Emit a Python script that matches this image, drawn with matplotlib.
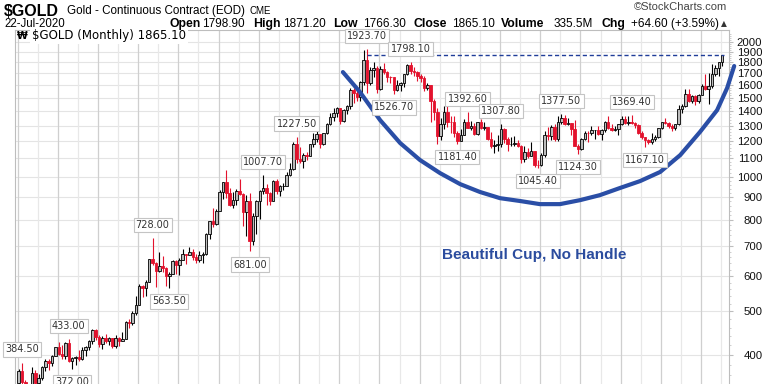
import matplotlib
matplotlib.use("Agg")
import matplotlib.pyplot as plt
from matplotlib.ticker import FixedLocator, NullFormatter, FuncFormatter
import numpy as np

plt.rcParams['font.family'] = ['Liberation Sans', 'DejaVu Sans']

# monthly $GOLD candles, Jan 2003 .. Jul 2020 (month index 0 = Jan 2003)
opens = [
    347, 368, 348, 335, 339, 364, 346, 355, 375, 388, 384, 398,          # 2003
    416, 402, 398, 426, 388, 394, 396, 392, 410, 417, 429, 454,          # 2004
    438, 423, 436, 430, 436, 418, 437, 430, 434, 473, 470, 496,          # 2005
    517, 569, 565, 583, 654, 643, 616, 633, 626, 599, 606, 648,          # 2006
    635, 651, 671, 668, 680, 660, 651, 669, 673, 745, 794, 784,          # 2007
    838, 924, 972, 917, 865, 888, 927, 914, 834, 884, 718, 818,          # 2008
    884, 928, 942, 917, 884, 978, 927, 953, 955, 1008, 1040, 1182,       # 2009
    1097, 1081, 1118, 1113, 1180, 1212, 1245, 1181, 1248, 1308, 1359, 1386,  # 2010
    1421, 1333, 1409, 1439, 1563, 1536, 1502, 1628, 1825, 1620, 1725, 1746,  # 2011
    1566, 1738, 1711, 1669, 1664, 1561, 1604, 1614, 1691, 1776, 1719, 1712,  # 2012
    1676, 1663, 1578, 1597, 1472, 1393, 1234, 1312, 1396, 1327, 1323, 1253,  # 2013
    1202, 1240, 1326, 1284, 1296, 1246, 1322, 1282, 1287, 1210, 1171, 1175,  # 2014
    1184, 1279, 1213, 1183, 1184, 1190, 1172, 1095, 1133, 1114, 1142, 1064,  # 2015
    1060, 1116, 1238, 1234, 1290, 1215, 1321, 1350, 1309, 1317, 1277, 1173,  # 2016
    1152, 1211, 1253, 1251, 1268, 1269, 1242, 1270, 1322, 1283, 1271, 1277,  # 2017
    1309, 1345, 1318, 1327, 1315, 1303, 1254, 1224, 1206, 1195, 1215, 1226,  # 2018
    1283, 1325, 1316, 1298, 1286, 1310, 1413, 1438, 1529, 1472, 1515, 1472,  # 2019
    1523, 1589, 1566, 1596, 1694, 1751, 1798.9,                              # 2020
]
highs = [
    372, 384.5, 352, 341, 376, 371, 363, 377, 392, 391, 399, 417,
    427, 420, 428, 433, 396, 398, 410, 417, 419, 431, 456, 456,
    442, 440, 446, 438, 437, 443, 438, 450, 475, 480, 500, 540,
    575, 574, 589, 655, 728, 645, 680, 665, 628, 612, 650, 651,
    659, 691, 673, 697, 689, 673, 683, 678, 747, 797, 849, 845,
    935, 975, 1033.9, 941, 925, 939, 989, 918, 910, 919, 831, 888,
    931, 1007.7, 964, 922, 982, 990, 960, 970, 1025, 1070, 1195, 1227.5,
    1163, 1128, 1137, 1184, 1249, 1265, 1245, 1249, 1315, 1388, 1424, 1432,
    1424, 1412, 1448, 1576, 1578, 1561, 1632, 1912, 1923.7, 1757, 1804, 1764,
    1763, 1792, 1719, 1679, 1666, 1639, 1630, 1692, 1788, 1798.1, 1754, 1723,
    1697, 1681, 1617, 1605, 1488, 1424, 1348, 1434, 1435, 1362, 1362, 1267,
    1280, 1345, 1392.6, 1331, 1315, 1326, 1346, 1325, 1289, 1256, 1205, 1239,
    1307.8, 1286, 1224, 1225, 1232, 1205, 1175, 1171, 1157, 1192, 1143, 1088,
    1126, 1263, 1287, 1303, 1307, 1362, 1377.5, 1372, 1353, 1318, 1338, 1184,
    1221, 1265, 1264, 1297, 1270, 1298, 1276, 1330, 1362, 1310, 1298, 1311,
    1366, 1366, 1365, 1369.4, 1326, 1309, 1266, 1225, 1216, 1249, 1238, 1286,
    1326, 1349, 1325, 1311, 1311, 1442, 1453, 1566, 1566, 1519, 1517, 1526,
    1611, 1691, 1704, 1788, 1775, 1804, 1871.2,
]
lows = [
    343, 345, 322, 319, 339, 340, 342, 351, 369, 370, 378, 398,
    399, 392, 391, 386, 372, 380, 387, 389, 398, 411, 423, 432,
    416, 412, 425, 420, 414, 414, 418, 430, 433, 460, 466, 490,
    517, 538, 542, 582, 636, 567, 611, 611, 570, 563.5, 606, 605,
    603, 650, 638, 667, 652, 640, 645, 643, 670, 727, 771, 780,
    838, 890, 894, 858, 850, 862, 909, 775, 736, 681, 703, 743,
    803, 916, 866, 865, 884, 913, 904, 931, 952, 1003, 1035, 1075,
    1071, 1045, 1088, 1113, 1165, 1195, 1157, 1175, 1245, 1305, 1330, 1359,
    1309, 1323, 1381, 1418, 1462, 1478, 1478, 1600, 1535, 1600, 1671, 1535,
    1562, 1693, 1627, 1614, 1526.7, 1550, 1555, 1583, 1688, 1691, 1674, 1636,
    1627, 1555, 1563, 1321, 1338, 1185, 1208, 1275, 1291, 1251, 1227, 1181.4,
    1199, 1238, 1282, 1268, 1241, 1240, 1280, 1271, 1206, 1161, 1131, 1142,
    1167, 1191, 1142, 1168, 1170, 1162, 1073, 1080, 1098, 1113, 1052, 1045.4,
    1058, 1107, 1208, 1207, 1200, 1200, 1310, 1303, 1305, 1241, 1171, 1124.3,
    1146, 1208, 1194, 1241, 1214, 1237, 1204, 1260, 1277, 1262, 1264, 1237,
    1303, 1308, 1306, 1310, 1282, 1245, 1211, 1167.1, 1180, 1182, 1198, 1222,
    1277, 1311, 1281, 1266, 1269, 1306, 1385, 1430, 1465, 1458, 1445, 1459,
    1517, 1563, 1451, 1573, 1681, 1678, 1766.3,
]
closes = [
    368, 348, 335, 339, 364, 346, 355, 375, 388, 384, 398, 416,
    402, 398, 426, 388, 394, 396, 392, 410, 417, 429, 454, 438,
    423, 436, 430, 436, 418, 437, 430, 434, 473, 470, 496, 517,
    569, 565, 583, 654, 643, 616, 633, 626, 599, 606, 648, 635,
    651, 671, 668, 680, 660, 651, 669, 673, 745, 794, 784, 838,
    924, 972, 917, 865, 888, 927, 914, 834, 884, 718, 818, 884,
    928, 942, 917, 884, 978, 927, 953, 955, 1008, 1040, 1182, 1097,
    1081, 1118, 1113, 1180, 1212, 1245, 1181, 1248, 1308, 1359, 1386, 1421,
    1333, 1409, 1439, 1563, 1536, 1502, 1628, 1825, 1620, 1725, 1746, 1566,
    1738, 1711, 1669, 1664, 1561, 1604, 1614, 1691, 1776, 1719, 1712, 1676,
    1663, 1578, 1597, 1472, 1393, 1234, 1312, 1396, 1327, 1323, 1253, 1202,
    1240, 1326, 1284, 1296, 1246, 1322, 1282, 1287, 1210, 1171, 1175, 1184,
    1279, 1213, 1183, 1184, 1190, 1172, 1095, 1133, 1114, 1142, 1064, 1060,
    1116, 1238, 1234, 1290, 1215, 1321, 1350, 1309, 1317, 1277, 1173, 1152,
    1211, 1253, 1251, 1268, 1269, 1242, 1270, 1322, 1283, 1271, 1277, 1309,
    1345, 1318, 1327, 1315, 1303, 1254, 1224, 1206, 1195, 1215, 1226, 1283,
    1325, 1316, 1298, 1286, 1310, 1413, 1438, 1529, 1472, 1515, 1472, 1523,
    1589, 1566, 1596, 1694, 1751, 1800.5, 1865.1,
]

# swing labels: month index, price, above (h) / below (l)
lab_idx = [1, 15, 16, 40, 45, 69, 73, 83, 104, 112, 117, 131, 134, 144, 155, 162, 167, 183, 187]
lab_val = [384.5, 433.0, 372.0, 728.0, 563.5, 681.0, 1007.7, 1227.5, 1923.7, 1526.7, 1798.1,
           1181.4, 1392.6, 1307.8, 1045.4, 1377.5, 1124.3, 1369.4, 1167.1]
lab_side = ['h', 'h', 'l', 'h', 'l', 'l', 'h', 'h', 'h', 'l', 'h',
            'l', 'h', 'h', 'l', 'h', 'l', 'h', 'l']

# hand-drawn cup (month index, price)
cup_x = [96.8, 101.9, 107.9, 113.9, 119.8, 125.8, 131.8, 137.7, 143.7, 149.7, 155.6,
         161.6, 167.6, 173.5, 179.5, 185.5, 191.5, 197.5, 203.4, 208.5, 211.5, 213.6]
cup_y = [1711, 1544, 1337, 1188, 1089, 1018, 962, 924, 895, 882, 868,
         868, 886, 909, 943, 977, 1024, 1117, 1258, 1407, 1577, 1765]

yticks = [400, 500, 600, 700, 800, 900, 1000, 1100, 1200, 1300, 1400,
          1500, 1600, 1700, 1800, 1900, 2000]

red = '#e3122d'
blue = '#2a4ea6'

fig = plt.figure(figsize=(7.68, 3.84), dpi=100)
ax = fig.add_axes([15/768, 0, 714/768, 354/384])
ax.set_yscale('log')
ax.set_xlim(-1.07, 212.05)
ax.set_ylim(344.4, 2124)

# grid
for yy in yticks:
    ax.axhline(yy, color='#e4e4e4', lw=0.8, zorder=0)
for k in range(0, 18):
    ax.axvline(12 * k - 0.3, color='#cfcfcf', lw=0.9, zorder=0)
    ax.axvline(12 * k + 5.7, color='#e8e8e8', lw=0.9, zorder=0)

# candles
x = np.arange(len(closes))
for i in x:
    o, h, l, c = opens[i], highs[i], lows[i], closes[i]
    down = c < o
    col = red if down else 'black'
    ax.vlines(i, l, h, color=col, lw=0.8, zorder=2)
    ax.bar(i, max(abs(c - o), 1.0), bottom=min(o, c), width=0.75,
           facecolor=red if down else '#bcbcbc', edgecolor=col, lw=0.6, zorder=3)

# dashed line at latest high
ax.hlines(highs[-1], 104, 210.5, colors='#1f3d99', linestyles=(0, (3, 2)), lw=1.0, zorder=4)

# cup
ax.plot(cup_x, cup_y, color=blue, lw=3.0, solid_capstyle='round', zorder=5, clip_on=False)

# swing labels
for i, v, s in zip(lab_idx, lab_val, lab_side):
    off = 9.5 if s == 'h' else -9.5
    ax.annotate('%.2f' % v, xy=(i, v), xytext=(0, off), textcoords='offset points',
                ha='center', va='center', fontsize=7, family='DejaVu Sans', color='#333333',
                bbox=dict(boxstyle='square,pad=0.22', fc='white', ec='#c4c4c4', lw=0.8),
                zorder=6, annotation_clip=False)

ax.text(154, 668, 'Beautiful Cup, No Handle', color='#2b4c9e', fontsize=11,
        fontweight='bold', ha='center', va='center', zorder=6)

# legend line in the plot
ax.text(2.0 / 714, 1 - 6.0 / 354, '\u20a9', transform=ax.transAxes, fontsize=7,
        fontweight='bold', family='DejaVu Sans', va='center', ha='left', zorder=7)
ax.text(17.0 / 714, 1 - 6.0 / 354, '$GOLD (Monthly) 1865.10', transform=ax.transAxes,
        fontsize=8.5, family='DejaVu Sans', va='center', ha='left', zorder=7,
        bbox=dict(boxstyle='square,pad=0.15', fc='white', ec='none'))

# axes look
for sp in ['left', 'top', 'right']:
    ax.spines[sp].set_color('#bdbdbd')
    ax.spines[sp].set_linewidth(0.8)
ax.spines['bottom'].set_visible(False)
ax.set_xticks([])
ax.yaxis.tick_right()
ax.yaxis.set_major_locator(FixedLocator(yticks))
ax.yaxis.set_major_formatter(FuncFormatter(lambda v, p: '%d' % v))
ax.yaxis.set_minor_locator(FixedLocator([v for v in range(360, 2120, 20) if v % 100]))
ax.yaxis.set_minor_formatter(NullFormatter())
ax.tick_params(axis='y', which='major', length=3, color='#bdbdbd', labelsize=8.2,
               pad=21, labelcolor='#111111')
ax.tick_params(axis='y', which='minor', length=1.5, color='#c8c8c8')
for t in ax.get_yticklabels():
    t.set_horizontalalignment('right')

# header
def ft(px, py, s, **kw):
    fig.text(px / 768, 1 - py / 384, s, va='center', ha=kw.pop('ha', 'left'), **kw)

ft(4, 11, '$GOLD', fontsize=11.5, fontweight='bold')
ft(67, 11, 'Gold - Continuous Contract (EOD)', fontsize=8.4)
ft(249, 11.5, 'CME', fontsize=7)
ft(727, 7, '\u00a9StockCharts.com', fontsize=8, color='#444444', ha='right')
ft(4, 24, '22-Jul-2020', fontsize=8.3)
row = [(170, 'Open', True), (202, '1798.90', False), (253, 'High', True), (283, '1871.20', False),
       (333, 'Low', True), (363, '1766.30', False), (413, 'Close', True), (452, '1865.10', False),
       (501, 'Volume', True), (554, '335.5M', False), (602, 'Chg', True),
       (631, '+64.60 (+3.59%)', False)]
for px, s, b in row:
    ft(px, 24, s, fontsize=8.8 if b else 8.5, fontweight='bold' if b else 'normal')
ft(721, 24, '\u25b2', fontsize=5.5, family='DejaVu Sans', color='#333333')

fig.savefig('out.png', dpi=100)
